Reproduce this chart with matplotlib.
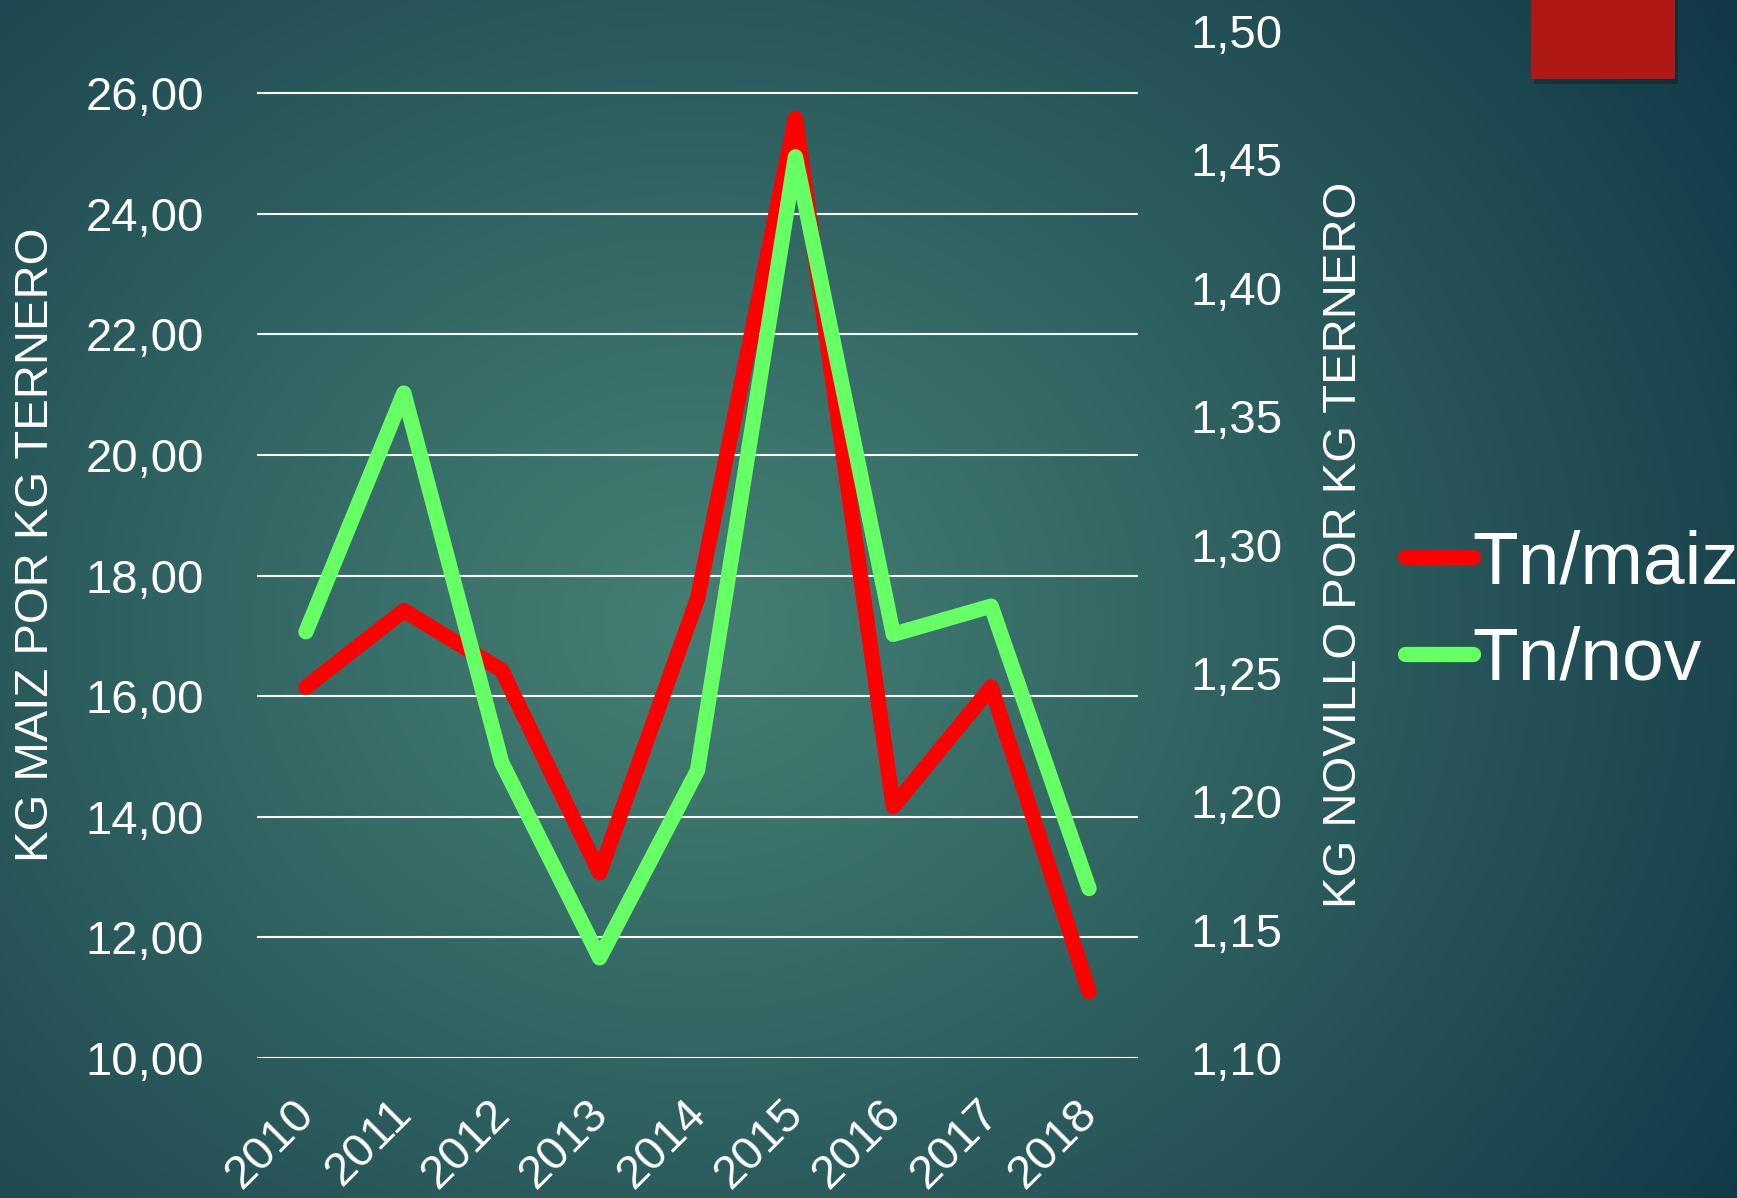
import numpy as np
import matplotlib
matplotlib.use("Agg")
import matplotlib.pyplot as plt
import matplotlib.transforms as mtransforms
from matplotlib.patches import Rectangle
from matplotlib.ticker import FuncFormatter, FixedLocator

plt.rcParams['font.family'] = ['Liberation Sans', 'DejaVu Sans']

years = ["2010", "2011", "2012", "2013", "2014", "2015", "2016", "2017", "2018"]
tn_maiz = [16.15, 17.42, 16.43, 13.07, 17.62, 25.58, 14.17, 16.15, 11.10]
tn_nov = [1.266, 1.359, 1.215, 1.139, 1.212, 1.451, 1.265, 1.276, 1.166]
left_ticks = [10, 12, 14, 16, 18, 20, 22, 24, 26]
right_ticks = [1.10, 1.15, 1.20, 1.25, 1.30, 1.35, 1.40, 1.45, 1.50]
series_names = ["Tn/maiz", "Tn/nov"]
left_label = "KG MAIZ POR KG TERNERO"
right_label = "KG NOVILLO POR KG TERNERO"

W, H = 1737, 1198
fig = plt.figure(figsize=(W / 100, H / 100), dpi=100)

# background radial gradient
bg = fig.add_axes([0, 0, 1, 1], zorder=-10)
yy, xx = np.mgrid[0:H, 0:W]
cx, cy = 0.40 * W, 0.52 * H
d = np.sqrt(((xx - cx) / (0.75 * W)) ** 2 + ((yy - cy) / (0.95 * H)) ** 2)
d = np.clip(d, 0, 1)
c0 = np.array([0x44, 0x7e, 0x73]) / 255.0
c1 = np.array([0x10, 0x35, 0x45]) / 255.0
t = d[..., None] ** 1.1
img = c0 * (1 - t) + c1 * t
bg.imshow(img, aspect='auto', extent=[0, 1, 0, 1], origin='upper')
bg.set_xlim(0, 1)
bg.set_ylim(0, 1)
bg.axis('off')

# red rectangle with shadow
bg.add_patch(Rectangle((1534 / W, 1 - 84 / H), 144 / W, 84 / H, color='black', alpha=0.22, lw=0, zorder=2))
bg.add_patch(Rectangle((1531 / W, 1 - 79 / H), 144 / W, 79 / H, color='#b01815', lw=0, zorder=3))

ax = fig.add_axes([257 / W, 1 - 1058 / H, (1138 - 257) / W, (1058 - 31) / H])
ax.patch.set_alpha(0)
x = np.arange(len(years))
l1, = ax.plot(x, tn_maiz, color='#ff0000', lw=11, solid_capstyle='round', solid_joinstyle='round', zorder=3)
ax.set_xlim(-0.5, len(years) - 0.5)
ax.set_ylim(10, 27.03)
ax.yaxis.set_major_locator(FixedLocator(left_ticks))
ax.yaxis.set_major_formatter(FuncFormatter(lambda v, p: f"{v:.2f}".replace('.', ',')))
ax.grid(axis='y', color='white', lw=1.5)
ax.set_axisbelow(True)
ax.set_xticks(x)
ax.set_xticklabels(years, rotation=45, ha='right', rotation_mode='anchor')
for s in ax.spines.values():
    s.set_visible(False)
ax.tick_params(axis='both', length=0, colors='white', labelsize=34)
ax.tick_params(axis='y', pad=38)
ax.tick_params(axis='x', pad=24)
shift = mtransforms.ScaledTranslation(-14 / 100, 0, fig.dpi_scale_trans)
for lab in ax.get_xticklabels():
    lab.set_transform(lab.get_transform() + shift)
ax.set_ylabel(left_label, color='white', fontsize=34, labelpad=20)

ax2 = ax.twinx()
ax2.patch.set_alpha(0)
l2, = ax2.plot(x, tn_nov, color='#66ff66', lw=11, solid_capstyle='round', solid_joinstyle='round', zorder=3)
ax2.set_ylim(1.10, 1.50)
ax2.yaxis.set_major_locator(FixedLocator(right_ticks))
ax2.yaxis.set_major_formatter(FuncFormatter(lambda v, p: f"{v:.2f}".replace('.', ',')))
for s in ax2.spines.values():
    s.set_visible(False)
ax2.tick_params(axis='y', length=0, colors='white', labelsize=34, pad=38)
ax2.set_ylabel(right_label, color='white', fontsize=34, labelpad=28)

leg = fig.legend([l1, l2], series_names, loc='center left',
                 bbox_to_anchor=(1405 / W, 1 - 612 / H), frameon=False,
                 fontsize=54, handlelength=0.9, handletextpad=0.0,
                 labelspacing=0.37, borderpad=0, borderaxespad=0)
for txt in leg.get_texts():
    txt.set_color('white')
for h in leg.legend_handles:
    h.set_linewidth(11)
    h.set_solid_capstyle('round')

fig.savefig("out.png", dpi=100)
